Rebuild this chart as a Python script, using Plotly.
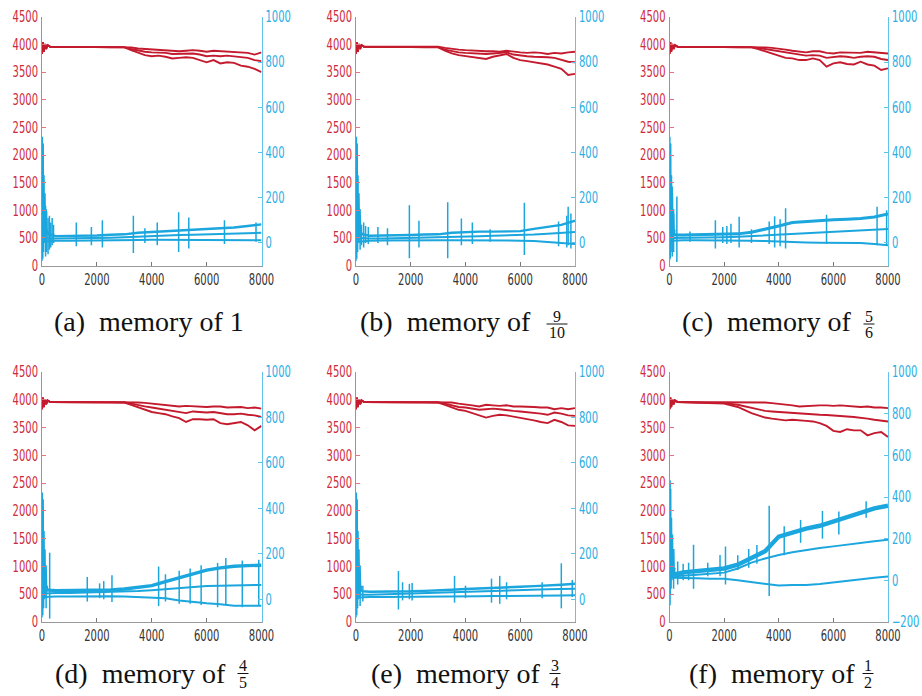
import plotly.graph_objects as go

W, H = 922, 696

# ---------------- data ----------------
X_TICKS = [0, 2000, 4000, 6000, 8000]
LEFT_TICKS = [0, 500, 1000, 1500, 2000, 2500, 3000, 3500, 4000, 4500]
RIGHT_TICKS = [0, 200, 400, 600, 800, 1000]
RIGHT_TICKS_F = [-200, 0, 200, 400, 600, 800, 1000]

PANEL_LABELS = ["(a)", "(b)", "(c)", "(d)", "(e)", "(f)"]
MEMORY_NUM = ["1", "9", "5", "4", "3", "1"]
MEMORY_DEN = ["", "10", "6", "5", "4", "2"]

# red (left axis) series
RED_EARLY_X = [0, 30, 60, 100, 150, 200, 300]
RED_EARLY_Y = [3830, 4040, 3870, 4010, 3920, 3990, 3960]
RED_X = [500, 1000, 1500, 2000, 2500, 3000, 3250, 3500, 3750, 4000, 4250, 4500, 4750,
         5000, 5250, 5500, 5750, 6000, 6250, 6500, 6750, 7000, 7250, 7500, 7750, 8000]

A_RED_TOP = [3960, 3960, 3960, 3960, 3960, 3960, 3950, 3930, 3920, 3910, 3910, 3900, 3890,
             3880, 3890, 3900, 3890, 3870, 3890, 3880, 3880, 3870, 3860, 3850, 3820, 3860]
A_RED_MID = [3960, 3960, 3958, 3957, 3956, 3955, 3920, 3890, 3870, 3860, 3860, 3850, 3830,
             3830, 3840, 3840, 3820, 3790, 3800, 3790, 3800, 3790, 3770, 3760, 3720, 3700]
A_RED_BOT = [3958, 3958, 3956, 3955, 3953, 3950, 3900, 3850, 3810, 3790, 3800, 3780, 3750,
             3760, 3770, 3760, 3720, 3680, 3720, 3660, 3680, 3670, 3620, 3600, 3560, 3500]

B_RED_TOP = [3960, 3960, 3960, 3960, 3960, 3960, 3940, 3920, 3910, 3900, 3890, 3880, 3880,
             3880, 3870, 3890, 3870, 3860, 3850, 3860, 3850, 3830, 3850, 3840, 3860, 3870]
B_RED_MID = [3960, 3960, 3958, 3957, 3956, 3955, 3910, 3880, 3860, 3850, 3840, 3840, 3830,
             3840, 3850, 3860, 3820, 3800, 3790, 3780, 3780, 3770, 3760, 3720, 3690, 3680]
B_RED_BOT = [3958, 3958, 3956, 3955, 3953, 3950, 3890, 3840, 3810, 3790, 3780, 3760, 3740,
             3780, 3810, 3830, 3760, 3720, 3700, 3680, 3660, 3640, 3600, 3560, 3450, 3470]

C_RED_TOP = [3960, 3960, 3960, 3960, 3960, 3960, 3960, 3950, 3940, 3930, 3910, 3890, 3870,
             3860, 3880, 3880, 3850, 3840, 3860, 3860, 3860, 3850, 3870, 3860, 3840, 3840]
C_RED_MID = [3960, 3960, 3958, 3957, 3956, 3955, 3940, 3920, 3900, 3880, 3850, 3830, 3810,
             3800, 3810, 3800, 3760, 3780, 3790, 3780, 3760, 3780, 3790, 3780, 3740, 3720]
C_RED_BOT = [3958, 3958, 3956, 3955, 3953, 3950, 3920, 3880, 3830, 3790, 3760, 3750, 3720,
             3720, 3750, 3720, 3600, 3660, 3680, 3650, 3640, 3690, 3640, 3620, 3540, 3570]

D_RED_TOP = [3960, 3960, 3960, 3960, 3960, 3960, 3955, 3950, 3945, 3930, 3920, 3910, 3890,
             3880, 3890, 3880, 3880, 3870, 3880, 3880, 3860, 3860, 3870, 3850, 3860, 3840]
D_RED_MID = [3960, 3960, 3958, 3957, 3956, 3955, 3930, 3900, 3880, 3860, 3840, 3820, 3800,
             3790, 3760, 3790, 3780, 3770, 3780, 3760, 3740, 3740, 3750, 3730, 3720, 3690]
D_RED_BOT = [3958, 3958, 3956, 3955, 3953, 3950, 3910, 3870, 3820, 3780, 3760, 3740, 3700,
             3670, 3600, 3650, 3650, 3640, 3650, 3580, 3560, 3580, 3600, 3540, 3450, 3530]

E_RED_TOP = [3960, 3960, 3960, 3960, 3960, 3960, 3955, 3950, 3930, 3920, 3900, 3880, 3910,
             3900, 3890, 3900, 3880, 3880, 3880, 3870, 3860, 3860, 3830, 3850, 3830, 3850]
E_RED_MID = [3960, 3960, 3958, 3957, 3956, 3955, 3930, 3900, 3870, 3860, 3840, 3820, 3830,
             3840, 3830, 3810, 3800, 3790, 3780, 3770, 3750, 3730, 3770, 3750, 3720, 3710]
E_RED_BOT = [3958, 3958, 3956, 3955, 3953, 3950, 3910, 3860, 3820, 3800, 3760, 3720, 3680,
             3710, 3730, 3720, 3700, 3680, 3660, 3630, 3600, 3580, 3640, 3600, 3540, 3530]

F_RED_TOP = [3960, 3960, 3960, 3960, 3960, 3960, 3960, 3950, 3940, 3930, 3920, 3900, 3880,
             3890, 3900, 3900, 3900, 3890, 3900, 3890, 3880, 3870, 3880, 3860, 3860, 3850]
F_RED_MID = [3958, 3955, 3950, 3940, 3910, 3860, 3830, 3800, 3790, 3780, 3770, 3760, 3750,
             3750, 3740, 3730, 3725, 3720, 3710, 3700, 3690, 3680, 3660, 3640, 3620, 3610]
F_RED_BOT = [3957, 3953, 3948, 3930, 3870, 3760, 3720, 3680, 3660, 3650, 3630, 3640, 3625,
             3620, 3610, 3580, 3530, 3440, 3420, 3470, 3450, 3450, 3360, 3400, 3420, 3330]

# blue (right axis) series
BLUE_TRANSIENT_X = [0, 15, 30, 45, 60, 75, 90, 110, 130, 150, 175, 200]
BLUE_TRANSIENT_Y = [-80, 470, -70, 440, -40, 300, 0, 220, 10, 150, 30, 60]
BLUE_X = [100, 250, 500, 1000, 1500, 2000, 2500, 3000, 3500, 4000, 4500, 5000, 5500,
          6000, 6500, 7000, 7500, 8000]

A_BLUE_UP = [60, 40, 30, 30, 32, 33, 36, 38, 45, 48, 50, 55, 58, 60, 62, 68, 75, 82]
A_BLUE_MID = [25, 20, 20, 20, 21, 22, 23, 25, 28, 30, 32, 35, 36, 38, 40, 42, 44, 45]
A_BLUE_LOW = [5, 8, 10, 10, 10, 10, 11, 12, 13, 14, 14, 15, 15, 15, 15, 15, 14, 12]
A_SPIKE_X = [130, 170, 220, 270, 320, 370, 420, 1250, 1800, 2200, 3330, 3750, 4200, 4980, 5350, 6650, 7800]
A_SPIKE_LO = [-60, -40, -50, -30, -20, -10, 0, -15, -10, -20, -45, 0, -10, -40, -25, -5, 5]
A_SPIKE_HI = [165, 140, 110, 120, 90, 110, 80, 90, 70, 100, 120, 65, 90, 136, 112, 100, 90]

B_BLUE_UP = [50, 38, 32, 32, 33, 35, 37, 38, 45, 48, 50, 50, 52, 52, 62, 70, 80, 98]
B_BLUE_MID = [22, 20, 20, 20, 21, 22, 23, 25, 27, 28, 30, 32, 33, 35, 37, 40, 44, 48]
B_BLUE_LOW = [5, 8, 10, 11, 12, 12, 12, 12, 12, 12, 12, 12, 11, 10, 8, 5, 0, -5]
B_SPIKE_X = [150, 200, 280, 350, 450, 800, 1150, 1950, 2300, 3350, 3850, 4250, 4900, 6150, 7400, 7700, 7750, 7850]
B_SPIKE_LO = [-30, -10, -20, 0, -5, 0, -10, -68, -20, -68, -10, -5, 5, -53, -15, -20, -10, -25]
B_SPIKE_HI = [100, 80, 90, 75, 70, 70, 65, 167, 98, 180, 108, 90, 60, 178, 95, 120, 160, 130]

C_BLUE_UP = [40, 35, 35, 36, 37, 38, 40, 47, 60, 75, 90, 95, 100, 102, 105, 108, 115, 128]
C_BLUE_MID = [22, 22, 22, 24, 24, 25, 27, 30, 34, 38, 42, 45, 48, 50, 52, 55, 58, 62]
C_BLUE_LOW = [10, 12, 12, 12, 12, 12, 11, 10, 8, 5, 3, 2, 1, 0, 0, 0, -5, -10]
C_SPIKE_X = [100, 150, 270, 750, 1680, 1950, 2100, 2250, 2550, 3000, 3650, 3850, 4050, 4250, 5750, 7600, 7950]
C_SPIKE_LO = [-60, -40, -85, 5, -25, 0, -5, 0, -20, 0, -5, -20, -15, -25, -5, -10, -10]
C_SPIKE_HI = [250, 130, 205, 50, 100, 70, 75, 85, 116, 60, 95, 118, 105, 153, 125, 160, 145]

D_BLUE_UP = [45, 40, 38, 38, 38, 40, 41, 45, 52, 60, 78, 95, 112, 128, 138, 145, 148, 150]
D_BLUE_MID = [25, 27, 28, 28, 29, 30, 31, 32, 36, 40, 45, 50, 54, 58, 60, 62, 63, 63]
D_BLUE_LOW = [10, 12, 12, 12, 13, 14, 13, 12, 10, 8, 5, -5, -12, -18, -22, -28, -28, -28]
D_SPIKE_X = [150, 280, 1650, 2100, 2250, 2550, 4250, 4500, 5000, 5400, 5800, 6400, 6700, 7300, 7900]
D_SPIKE_LO = [-40, -85, -10, 5, 0, -12, -30, -10, -20, -20, -25, -35, -25, -35, -30]
D_SPIKE_HI = [120, 205, 98, 70, 80, 106, 144, 110, 125, 135, 150, 160, 182, 170, 174]

E_BLUE_UP = [45, 35, 33, 33, 34, 35, 37, 38, 42, 45, 47, 48, 52, 55, 58, 60, 64, 68]
E_BLUE_MID = [22, 20, 20, 22, 23, 25, 26, 28, 30, 32, 34, 36, 38, 40, 42, 44, 45, 46]
E_BLUE_LOW = [8, 9, 10, 10, 10, 11, 11, 12, 12, 13, 13, 14, 14, 15, 16, 16, 17, 18]
E_SPIKE_X = [150, 250, 1550, 1700, 1950, 2050, 3600, 4000, 4950, 5250, 5500, 6800, 7500, 7900]
E_SPIKE_LO = [-30, -10, -45, -5, 0, -5, -15, 5, -15, -20, 0, 5, -40, 10]
E_SPIKE_HI = [80, 60, 124, 75, 68, 72, 103, 60, 91, 103, 75, 75, 158, 85]

F_BLUE_UP = [35, 30, 38, 44, 48, 57, 75, 105, 140, 210, 230, 248, 262, 284, 305, 328, 345, 358]
F_BLUE_MID = [20, 20, 22, 27, 32, 37, 57, 85, 105, 122, 135, 146, 155, 163, 172, 180, 188, 195]
F_BLUE_LOW = [12, 12, 12, 10, 8, 8, 0, -8, -18, -25, -22, -22, -18, -10, -3, 5, 12, 18]
F_SPIKE_X = [20, 150, 300, 500, 700, 880, 1400, 1850, 2050, 2500, 2900, 3200, 3650, 4200, 4800, 5600, 6200, 7200]
F_SPIKE_LO = [-120, -40, -20, 0, 0, -40, 20, 20, -20, 50, 60, 80, -75, 120, 180, 200, 220, 300]
F_SPIKE_HI = [480, 150, 90, 80, 85, 171, 85, 122, 163, 120, 150, 170, 358, 260, 290, 333, 330, 380]

# ---------------- style / layout ----------------
RED = "#c41a2e"
RED_TXT = "#cf2a3c"
RED_AXIS = "#e3737f"
BLUE = "#1ba6de"
BLUE_TXT = "#2aaee4"
BLUE_AXIS = "#5fc3ec"
TICK_FONT = "DejaVu Sans Condensed, Liberation Sans Narrow, Arial Narrow, sans-serif"
SERIF = "Liberation Serif, Times New Roman, serif"

COL_PX = [(42, 261.5), (356, 575), (669.5, 888)]
ROW_PX = [(17, 265.5), (372, 622)]
UP_WIDTH = [2.4, 2.4, 3.0, 3.4, 2.4, 4.4]

panels = [
    (A_RED_TOP, A_RED_MID, A_RED_BOT, A_BLUE_UP, A_BLUE_MID, A_BLUE_LOW, A_SPIKE_X, A_SPIKE_LO, A_SPIKE_HI),
    (B_RED_TOP, B_RED_MID, B_RED_BOT, B_BLUE_UP, B_BLUE_MID, B_BLUE_LOW, B_SPIKE_X, B_SPIKE_LO, B_SPIKE_HI),
    (C_RED_TOP, C_RED_MID, C_RED_BOT, C_BLUE_UP, C_BLUE_MID, C_BLUE_LOW, C_SPIKE_X, C_SPIKE_LO, C_SPIKE_HI),
    (D_RED_TOP, D_RED_MID, D_RED_BOT, D_BLUE_UP, D_BLUE_MID, D_BLUE_LOW, D_SPIKE_X, D_SPIKE_LO, D_SPIKE_HI),
    (E_RED_TOP, E_RED_MID, E_RED_BOT, E_BLUE_UP, E_BLUE_MID, E_BLUE_LOW, E_SPIKE_X, E_SPIKE_LO, E_SPIKE_HI),
    (F_RED_TOP, F_RED_MID, F_RED_BOT, F_BLUE_UP, F_BLUE_MID, F_BLUE_LOW, F_SPIKE_X, F_SPIKE_LO, F_SPIKE_HI),
]


def px_x(p):
    return p / W


def px_y(p):
    return 1 - p / H


fig = go.Figure()
layout = dict(width=W, height=H, autosize=False, margin=dict(l=0, r=0, t=0, b=0, pad=0, autoexpand=False),
              paper_bgcolor="white", plot_bgcolor="rgba(0,0,0,0)", showlegend=False)
annotations = []
shapes = []

for i, (rt, rm, rb, bu, bm, bl, sx, slo, shi) in enumerate(panels):
    k = i + 1
    row, col = divmod(i, 3)
    xl, xr = COL_PX[col]
    yt, yb = ROW_PX[row]
    xa = "x" if k == 1 else f"x{k}"
    ya_l = "y" if k == 1 else f"y{2 * k - 1}"
    ya_r = f"y{2 * k}"

    # red lines
    for series in (rt, rm, rb):
        fig.add_trace(go.Scatter(x=RED_EARLY_X + RED_X, y=RED_EARLY_Y + series, mode="lines",
                                 line=dict(color=RED, width=1.9), xaxis=xa, yaxis=ya_l,
                                 hoverinfo="skip"))
    # blue transient + spikes
    fig.add_trace(go.Scatter(x=BLUE_TRANSIENT_X, y=BLUE_TRANSIENT_Y, mode="lines",
                             line=dict(color=BLUE, width=1.4), xaxis=xa, yaxis=ya_r,
                             hoverinfo="skip"))
    spx, spy = [], []
    for xv, lo, hi in zip(sx, slo, shi):
        spx += [xv, xv, None]
        spy += [lo, hi, None]
    fig.add_trace(go.Scatter(x=spx, y=spy, mode="lines", line=dict(color=BLUE, width=1.5),
                             xaxis=xa, yaxis=ya_r, hoverinfo="skip"))
    # blue lines
    for series, w in ((bl, 2.0), (bm, 2.0), (bu, UP_WIDTH[i])):
        fig.add_trace(go.Scatter(x=BLUE_X, y=series, mode="lines",
                                 line=dict(color=BLUE, width=w), xaxis=xa, yaxis=ya_r,
                                 hoverinfo="skip"))

    xdom = [px_x(xl), px_x(xr)]
    ydom = [px_y(yb), px_y(yt)]
    layout["xaxis" if k == 1 else f"xaxis{k}"] = dict(
        domain=xdom, range=[0, 8000], tickvals=X_TICKS, ticktext=[str(v) for v in X_TICKS],
        ticks="inside", ticklen=4, tickcolor="#777", showline=True, linecolor="#9a9a9a",
        linewidth=1, showgrid=False, zeroline=False, anchor=ya_l, automargin=False,
        tickfont=dict(family=TICK_FONT, size=15, color="#333333"), fixedrange=True)
    layout["yaxis" if k == 1 else f"yaxis{2 * k - 1}"] = dict(
        domain=ydom, range=[0, 4500], tickvals=LEFT_TICKS, ticktext=[str(v) for v in LEFT_TICKS],
        ticks="inside", ticklen=4, tickcolor=RED_AXIS, showline=True, linecolor=RED_AXIS,
        linewidth=1, showgrid=False, zeroline=False, anchor=xa, automargin=False,
        tickfont=dict(family=TICK_FONT, size=15, color=RED_TXT), fixedrange=True)
    rticks = RIGHT_TICKS_F if k == 6 else RIGHT_TICKS
    layout[f"yaxis{2 * k}"] = dict(
        domain=ydom, range=[-200, 1000] if k == 6 else [-100, 1000], overlaying=ya_l,
        side="right", anchor=xa, tickvals=rticks, automargin=False,
        ticktext=[("\u2212" + str(-v)) if v < 0 else str(v) for v in rticks],
        ticks="inside", ticklen=4, tickcolor=BLUE_AXIS, showline=True, linecolor=BLUE_AXIS,
        linewidth=1, showgrid=False, zeroline=False,
        tickfont=dict(family=TICK_FONT, size=15, color=BLUE_TXT), fixedrange=True)

# captions
CAPTION_CENTER_Y = [321.5, 673.5]
NUM_Y = [316, 665]
BAR_Y = [324, 673.5]
DEN_Y = [332.5, 682.5]
TEXT_END_X = [0, 533, 853, 228, 542, 857]
FRAC_CX = [0, 557, 869, 243, 555, 868]

for i in range(6):
    row, col = divmod(i, 3)
    if MEMORY_DEN[i] == "":
        annotations.append(dict(
            x=px_x(149), y=px_y(CAPTION_CENTER_Y[row]), xref="paper", yref="paper",
            text=PANEL_LABELS[i] + "\u2002memory of " + MEMORY_NUM[i], showarrow=False,
            xanchor="center", yanchor="middle", font=dict(family=SERIF, size=28, color="#111")))
        continue
    annotations.append(dict(
        x=px_x(TEXT_END_X[i]), y=px_y(CAPTION_CENTER_Y[row]), xref="paper", yref="paper",
        text=PANEL_LABELS[i] + "\u2002memory of", showarrow=False,
        xanchor="right", yanchor="middle", font=dict(family=SERIF, size=28, color="#111")))
    cx = FRAC_CX[i]
    annotations.append(dict(
        x=px_x(cx), y=px_y(NUM_Y[row]), xref="paper", yref="paper", text=MEMORY_NUM[i],
        showarrow=False, xanchor="center", yanchor="middle",
        font=dict(family=SERIF, size=16, color="#111")))
    annotations.append(dict(
        x=px_x(cx), y=px_y(DEN_Y[row]), xref="paper", yref="paper", text=MEMORY_DEN[i],
        showarrow=False, xanchor="center", yanchor="middle",
        font=dict(family=SERIF, size=16, color="#111")))
    half = 5.5 if len(MEMORY_DEN[i]) == 1 else 10.5
    shapes.append(dict(type="line", xref="paper", yref="paper",
                       x0=px_x(cx - half), x1=px_x(cx + half),
                       y0=px_y(BAR_Y[row]), y1=px_y(BAR_Y[row]),
                       line=dict(color="#111", width=1)))

layout["annotations"] = annotations
layout["shapes"] = shapes
fig.update_layout(**layout)

POST = """
document.body.style.margin='0';
document.body.style.overflow='hidden';
var gd = document.getElementById('{plot_id}');
gd.querySelectorAll('g[class$="tick"] > text').forEach(function(t){
  var L = t.getComputedTextLength();
  if (L > 0) {
    t.setAttribute('textLength', (L * 0.74).toFixed(2));
    t.setAttribute('lengthAdjust', 'spacingAndGlyphs');
  }
});
"""
fig.write_html("out.html", config={"displayModeBar": False}, post_script=POST)
